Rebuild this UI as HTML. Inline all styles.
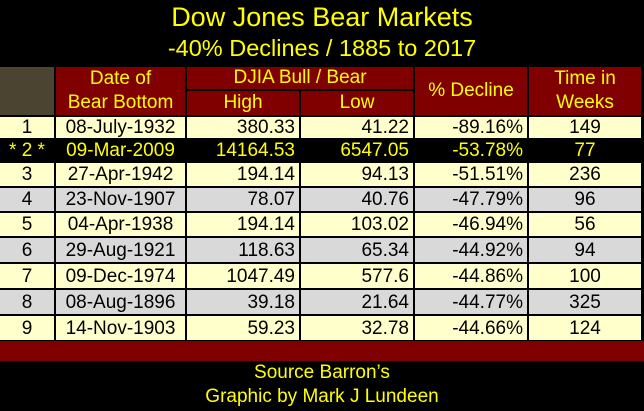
<!DOCTYPE html>
<html><head><meta charset="utf-8"><style>
body{margin:0;width:644px;height:411px;background:#000;overflow:hidden;font-family:"Liberation Sans",sans-serif;position:relative}
.c{position:absolute;box-sizing:border-box;display:flex;align-items:center;font-size:19px;color:#000;white-space:nowrap}
.t{position:absolute;left:0;width:644px;text-align:center;color:#ffff00}
</style></head><body>
<div class="t" style="top:2px;font-size:27px">Dow Jones Bear Markets</div>
<div class="t" style="top:35px;font-size:23.5px">-40% Declines / 1885 to 2017</div>
<div id="tbl"></div>
<div class="c" style="left:0;top:341px;width:644px;height:20px;background:#800000"></div>
<div class="t" style="top:362px;font-size:19px">Source Barron’s</div>
<div class="t" style="top:386px;font-size:19px">Graphic by Mark J Lundeen</div>
<script>
const ranks=["1","* 2 *","3","4","5","6","7","8","9"];
const dates=["08-July-1932","09-Mar-2009","27-Apr-1942","23-Nov-1907","04-Apr-1938","29-Aug-1921","09-Dec-1974","08-Aug-1896","14-Nov-1903"];
const highs=["380.33","14164.53","194.14","78.07","194.14","118.63","1047.49","39.18","59.23"];
const lows=["41.22","6547.05","94.13","40.76","103.02","65.34","577.6","21.64","32.78"];
const declines=["-89.16%","-53.78%","-51.51%","-47.79%","-46.94%","-44.92%","-44.86%","-44.77%","-44.66%"];
const weeks=["149","77","236","96","56","94","100","325","124"];
const xs=[0,55,186,300,414,528,642];
const tbl=document.getElementById('tbl');
function cell(x0,x1,y0,y1,txt,bg,col,align,name){
  const d=document.createElement('div');d.className='c';
  
  
  d.style.left=(x0+(x0?1:0))+'px';d.style.width=(x1-x0-(x0?1:0)-1)+'px';
  d.style.top=(y0+1)+'px';d.style.height=(y1-y0-2)+'px';
  d.style.background=bg;d.style.color=col;
  d.style.justifyContent=align;if(align==='flex-end')d.style.paddingRight='4px';
  d.style.textAlign='center';d.style.lineHeight='23px';
  d.innerHTML=txt;tbl.appendChild(d);return d;}
const M='#800000',Y='#ffff00';
cell(0,55,66,116,'','#4a4430',Y,'center','header-blank');
cell(55,186,66,116,'Date of<br>Bear Bottom',M,Y,'center','header-date');
cell(186,414,66,90,'DJIA Bull / Bear',M,Y,'center','header-djia');
cell(186,300,90,116,'High',M,Y,'center','header-high');
cell(300,414,90,116,'Low',M,Y,'center','header-low');
cell(414,528,66,116,'% Decline',M,Y,'center','header-decline');
cell(528,642,66,116,'Time in<br>Weeks',M,Y,'center','header-weeks');
tbl.querySelectorAll('.c').forEach(e=>{e.style.flexDirection='column';e.style.justifyContent='center';e.style.lineHeight='24px'});
const starts=[116,139,162,187,212,237,263,289,315,341];
for(let i=0;i<ranks.length;i++){
  const y0=starts[i],y1=starts[i+1];
  let bg=i===1?'#000':(i%2===1?'#d9d9d9':'#ffffcc'),col=i===1?Y:'#000';
  const vals=[ranks[i],dates[i],highs[i],lows[i],declines[i],weeks[i]];
  const al=['center','center','flex-end','flex-end','flex-end','center'];
  const nm=['rank','date','high','low','decline','weeks'];
  for(let j=0;j<6;j++){cell(xs[j],xs[j+1],y0,y1,vals[j],bg,col,al[j],'row-'+(i+1)+'-'+nm[j]);}
}
</script>
</body></html>
